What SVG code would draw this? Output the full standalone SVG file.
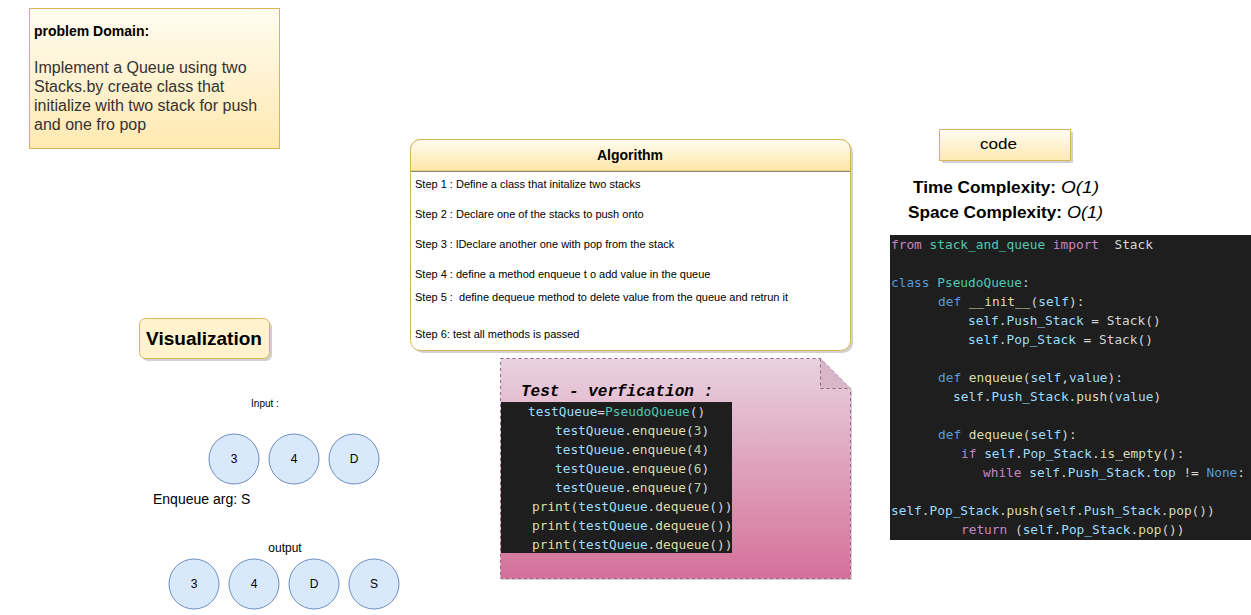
<svg xmlns="http://www.w3.org/2000/svg" width="1251" height="615" viewBox="0 0 1251 615">
<defs>
<linearGradient id="gYellow" x1="0" y1="0" x2="0" y2="1"><stop offset="0" stop-color="#fffcf2"/><stop offset="1" stop-color="#ffe9b0"/></linearGradient>
<linearGradient id="gHead" x1="0" y1="0" x2="0" y2="1"><stop offset="0" stop-color="#fffcf0"/><stop offset="1" stop-color="#ffe6a6"/></linearGradient>
<linearGradient id="gPink" x1="0" y1="0" x2="0" y2="1"><stop offset="0" stop-color="#e8d2df"/><stop offset="1" stop-color="#d5709b"/></linearGradient>
<style>
.sans{font-family:"Liberation Sans",Arial,sans-serif}
.mono{font-family:"DejaVu Sans Mono","Liberation Mono",monospace;font-size:12.8px}
.step{font-family:"Liberation Sans",Arial,sans-serif;font-size:11px;fill:#000}
.circ{fill:#dae8fc;stroke:#6c8ebf;stroke-width:1}
.clab{font-family:"Liberation Sans",Arial,sans-serif;font-size:12px;fill:#000;text-anchor:middle}
.kw{fill:#c586c0}.ty{fill:#4ec9b0}.bl{fill:#569cd6}.fn{fill:#dcdcaa}.vr{fill:#9cdcfe}.pl{fill:#d4d4d4}.nm{fill:#b5cea8}
.shadow{fill:#000;opacity:0.18}
</style>
</defs>

<g id="problem-domain">
<rect x="29.5" y="8.5" width="250" height="140" fill="url(#gYellow)" stroke="#d6b656"/>
<text x="34" y="36" class="sans" font-size="14" font-weight="bold" fill="#000">problem Domain:</text>
<text class="sans" font-size="16" fill="#333">
<tspan x="34" y="73">Implement a Queue using two</tspan>
<tspan x="34" y="92">Stacks.by create class that</tspan>
<tspan x="34" y="111">initialize with two stack for push</tspan>
<tspan x="34" y="130">and one fro pop</tspan>
</text>
</g>

<g id="algorithm">
<rect x="413" y="142" width="440" height="211" rx="10" class="shadow"/>
<rect x="410.5" y="139.5" width="440" height="211" rx="10" fill="#fff" stroke="#d6b656"/>
<path d="M410.5,171 V149.5 a10,10 0 0 1 10,-10 H840.5 a10,10 0 0 1 10,10 V171 Z" fill="url(#gHead)" stroke="#d6b656"/>
<line x1="411" y1="171.5" x2="850" y2="171.5" stroke="#888"/>
<text x="630" y="160" class="sans" font-size="14" font-weight="bold" text-anchor="middle" fill="#000">Algorithm</text>
<text x="415" y="188" class="step">Step 1 : Define a class that initalize two stacks</text>
<text x="415" y="218" class="step">Step 2 : Declare one of the stacks to push onto</text>
<text x="415" y="248" class="step">Step 3 : lDeclare another one with pop from the stack</text>
<text x="415" y="278" class="step">Step 4 : define a method enqueue t o add value in the queue</text>
<text x="415" y="301" class="step" xml:space="preserve">Step 5 :  define dequeue method to delete value from the queue and retrun it</text>
<text x="415" y="338" class="step">Step 6: test all methods is passed</text>
</g>

<g id="code-label">
<rect x="942" y="132" width="131" height="31" class="shadow"/>
<rect x="939.5" y="129.5" width="131" height="31" fill="url(#gYellow)" stroke="#d6b656"/>
<text x="980" y="149" class="sans" font-size="14" textLength="37" lengthAdjust="spacingAndGlyphs" fill="#000">code</text>
</g>

<g id="complexity">
<text x="913" y="193" class="sans" font-size="16" font-weight="bold" fill="#000" textLength="143" lengthAdjust="spacingAndGlyphs">Time Complexity:</text>
<text x="1061" y="193" class="sans" font-size="16" font-style="italic" fill="#000" textLength="38" lengthAdjust="spacingAndGlyphs">O(1)</text>
<text x="908" y="218" class="sans" font-size="16" font-weight="bold" fill="#000" textLength="154" lengthAdjust="spacingAndGlyphs">Space Complexity:</text>
<text x="1067" y="218" class="sans" font-size="16" font-style="italic" fill="#000" textLength="36" lengthAdjust="spacingAndGlyphs">O(1)</text>
</g>

<g id="code-block">
<rect x="890" y="235" width="361" height="305" fill="#1e1e1e"/>
<text class="mono" xml:space="preserve">
<tspan x="891" y="249"><tspan class="kw">from</tspan><tspan class="ty"> stack_and_queue</tspan><tspan class="kw"> import</tspan><tspan class="pl">  Stack</tspan></tspan>
<tspan x="891" y="287"><tspan class="bl">class</tspan><tspan class="ty"> PseudoQueue</tspan><tspan class="pl">:</tspan></tspan>
<tspan x="938" y="306"><tspan class="bl">def</tspan><tspan class="fn"> __init__</tspan><tspan class="pl">(</tspan><tspan class="vr">self</tspan><tspan class="pl">):</tspan></tspan>
<tspan x="968" y="325"><tspan class="vr">self</tspan><tspan class="pl">.</tspan><tspan class="vr">Push_Stack</tspan><tspan class="pl"> = Stack()</tspan></tspan>
<tspan x="968" y="344"><tspan class="vr">self</tspan><tspan class="pl">.</tspan><tspan class="vr">Pop_Stack</tspan><tspan class="pl"> = Stack()</tspan></tspan>
<tspan x="938" y="382"><tspan class="bl">def</tspan><tspan class="fn"> enqueue</tspan><tspan class="pl">(</tspan><tspan class="vr">self</tspan><tspan class="pl">,</tspan><tspan class="vr">value</tspan><tspan class="pl">):</tspan></tspan>
<tspan x="953" y="401"><tspan class="vr">self</tspan><tspan class="pl">.</tspan><tspan class="vr">Push_Stack</tspan><tspan class="pl">.</tspan><tspan class="fn">push</tspan><tspan class="pl">(</tspan><tspan class="vr">value</tspan><tspan class="pl">)</tspan></tspan>
<tspan x="938" y="439"><tspan class="bl">def</tspan><tspan class="fn"> dequeue</tspan><tspan class="pl">(</tspan><tspan class="vr">self</tspan><tspan class="pl">):</tspan></tspan>
<tspan x="961" y="458"><tspan class="kw">if</tspan><tspan class="vr"> self</tspan><tspan class="pl">.</tspan><tspan class="vr">Pop_Stack</tspan><tspan class="pl">.</tspan><tspan class="fn">is_empty</tspan><tspan class="pl">():</tspan></tspan>
<tspan x="983" y="477"><tspan class="kw">while</tspan><tspan class="vr"> self</tspan><tspan class="pl">.</tspan><tspan class="vr">Push_Stack</tspan><tspan class="pl">.</tspan><tspan class="vr">top</tspan><tspan class="pl"> != </tspan><tspan class="bl">None</tspan><tspan class="pl">:</tspan></tspan>
<tspan x="891" y="515"><tspan class="vr">self</tspan><tspan class="pl">.</tspan><tspan class="vr">Pop_Stack</tspan><tspan class="pl">.</tspan><tspan class="fn">push</tspan><tspan class="pl">(</tspan><tspan class="vr">self</tspan><tspan class="pl">.</tspan><tspan class="vr">Push_Stack</tspan><tspan class="pl">.</tspan><tspan class="fn">pop</tspan><tspan class="pl">())</tspan></tspan>
<tspan x="961" y="534"><tspan class="kw">return</tspan><tspan class="pl"> (</tspan><tspan class="vr">self</tspan><tspan class="pl">.</tspan><tspan class="vr">Pop_Stack</tspan><tspan class="pl">.</tspan><tspan class="fn">pop</tspan><tspan class="pl">())</tspan></tspan>
</text>
</g>

<g id="test-verification">
<path d="M502,360 H822 L852,390 V580 H502 Z" class="shadow"/>
<path d="M500.5,358.5 H820.5 L850.5,388.5 V578.5 H500.5 Z" fill="url(#gPink)" stroke="#996185" stroke-dasharray="3,3"/>
<path d="M820.5,358.5 V388.5 H850.5" fill="#d9b7cb" stroke="#996185" stroke-dasharray="3,3"/>
<text x="521" y="396" font-family="'Liberation Mono','Courier New',monospace" font-size="16" font-weight="bold" font-style="italic" fill="#000">Test - verfication :</text>
<rect x="501" y="402" width="231" height="151" fill="#1e1e1e"/>
<text class="mono">
<tspan x="528" y="416"><tspan class="vr">testQueue</tspan><tspan class="pl">=</tspan><tspan class="ty">PseudoQueue</tspan><tspan class="pl">()</tspan></tspan>
<tspan x="555" y="435"><tspan class="vr">testQueue</tspan><tspan class="pl">.</tspan><tspan class="fn">enqueue</tspan><tspan class="pl">(</tspan><tspan class="nm">3</tspan><tspan class="pl">)</tspan></tspan>
<tspan x="555" y="454"><tspan class="vr">testQueue</tspan><tspan class="pl">.</tspan><tspan class="fn">enqueue</tspan><tspan class="pl">(</tspan><tspan class="nm">4</tspan><tspan class="pl">)</tspan></tspan>
<tspan x="555" y="473"><tspan class="vr">testQueue</tspan><tspan class="pl">.</tspan><tspan class="fn">enqueue</tspan><tspan class="pl">(</tspan><tspan class="nm">6</tspan><tspan class="pl">)</tspan></tspan>
<tspan x="555" y="492"><tspan class="vr">testQueue</tspan><tspan class="pl">.</tspan><tspan class="fn">enqueue</tspan><tspan class="pl">(</tspan><tspan class="nm">7</tspan><tspan class="pl">)</tspan></tspan>
<tspan x="532" y="511"><tspan class="fn">print</tspan><tspan class="pl">(</tspan><tspan class="vr">testQueue</tspan><tspan class="pl">.</tspan><tspan class="fn">dequeue</tspan><tspan class="pl">())</tspan></tspan>
<tspan x="532" y="530"><tspan class="fn">print</tspan><tspan class="pl">(</tspan><tspan class="vr">testQueue</tspan><tspan class="pl">.</tspan><tspan class="fn">dequeue</tspan><tspan class="pl">())</tspan></tspan>
<tspan x="532" y="549"><tspan class="fn">print</tspan><tspan class="pl">(</tspan><tspan class="vr">testQueue</tspan><tspan class="pl">.</tspan><tspan class="fn">dequeue</tspan><tspan class="pl">())</tspan></tspan>
</text>
</g>

<g id="visualization">
<rect x="142" y="321" width="130" height="40" rx="6" class="shadow"/>
<rect x="139.5" y="318.5" width="130" height="40" rx="6" fill="#fff2cc" stroke="#d6b656"/>
<text x="204" y="345" class="sans" font-size="19" font-weight="bold" text-anchor="middle" fill="#000">Visualization</text>
</g>

<g id="input-label"><text x="265" y="407" class="sans" font-size="10" text-anchor="middle" fill="#000">Input :</text></g>
<g id="in-3"><circle cx="234" cy="459" r="25" class="circ"/><text x="234" y="463" class="clab">3</text></g>
<g id="in-4"><circle cx="294" cy="459" r="25" class="circ"/><text x="294" y="463" class="clab">4</text></g>
<g id="in-D"><circle cx="354" cy="459" r="25" class="circ"/><text x="354" y="463" class="clab">D</text></g>
<g id="enqueue-arg"><text x="153" y="504" class="sans" font-size="14" fill="#000">Enqueue arg: S</text></g>
<g id="output-label"><text x="285" y="552" class="sans" font-size="12" text-anchor="middle" fill="#000">output</text></g>
<g id="out-3"><circle cx="194" cy="584" r="25" class="circ"/><text x="194" y="588" class="clab">3</text></g>
<g id="out-4"><circle cx="254" cy="584" r="25" class="circ"/><text x="254" y="588" class="clab">4</text></g>
<g id="out-D"><circle cx="314" cy="584" r="25" class="circ"/><text x="314" y="588" class="clab">D</text></g>
<g id="out-S"><circle cx="374" cy="584" r="25" class="circ"/><text x="374" y="588" class="clab">S</text></g>

<g id="connectors"></g>
</svg>
